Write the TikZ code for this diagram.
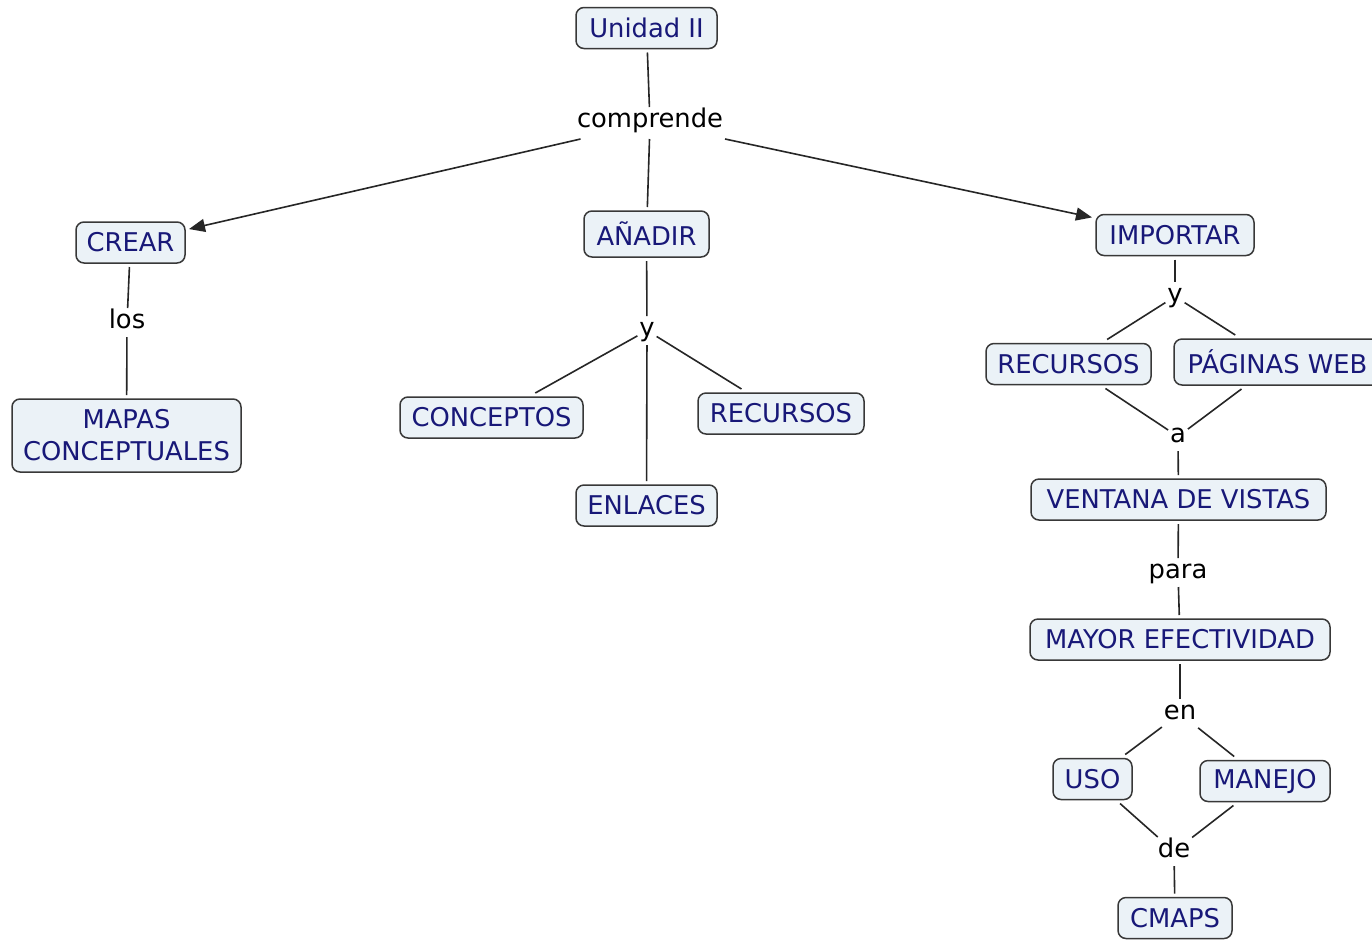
\documentclass[tikz,border=0pt]{standalone}
\usepackage{fontspec}
\setmainfont{DejaVu Sans}
\usetikzlibrary{arrows.meta}
\definecolor{cfill}{HTML}{EBF2F7}
\definecolor{cborder}{HTML}{383838}
\definecolor{cnavy}{HTML}{181878}
\begin{document}
\begin{tikzpicture}[x=1pt,y=-1pt,
  concept/.style={draw=cborder, line width=1.5pt, fill=cfill, text=cnavy,
    rounded corners=8pt, inner xsep=0pt, inner ysep=0pt, minimum height=41pt,
    align=center, outer sep=4pt,
    font=\fontsize{25.8pt}{32pt}\selectfont},
  linklabel/.style={text=black, inner sep=2pt, outer sep=0pt,
    text height=18pt, text depth=7pt,
    font=\fontsize{25.8pt}{30pt}\selectfont},
  conn/.style={draw=black!85, line width=1.6pt},
  arr/.style={conn, -{Triangle[length=16pt,width=13pt]}}]
\useasboundingbox (0,0) rectangle (1372,940);
\clip (0,0) rectangle (1372,940);
\fill[white] (0,0) rectangle (1372,940);

% concepts
\node[concept, minimum width=141pt] (unidad) at (646.5,28) {Unidad II};
\node[concept, minimum width=109pt] (crear) at (130.5,242.5) {CREAR};
\node[concept, minimum width=229pt, minimum height=73pt] (mapas) at (126.5,435.5) {MAPAS\\CONCEPTUALES};
\node[concept, minimum width=125pt, minimum height=46pt] (anadir) at (646.5,234) {AÑADIR};
\node[concept, minimum width=183pt] (conceptos) at (491.5,417.5) {CONCEPTOS};
\node[concept, minimum width=166pt] (recursosA) at (781,413.5) {RECURSOS};
\node[concept, minimum width=141pt] (enlaces) at (646.5,505.5) {ENLACES};
\node[concept, minimum width=158pt] (importar) at (1175,235) {IMPORTAR};
\node[concept, minimum width=165pt] (recursosB) at (1068.5,364) {RECURSOS};
\node[concept, minimum width=207pt, minimum height=46pt] (paginas) at (1277.5,362) {PÁGINAS WEB};
\node[concept, minimum width=295pt] (ventana) at (1178.5,499.5) {VENTANA DE VISTAS};
\node[concept, minimum width=300pt] (mayor) at (1180,639.5) {MAYOR EFECTIVIDAD};
\node[concept, minimum width=79pt] (uso) at (1092.5,779) {USO};
\node[concept, minimum width=130pt] (manejo) at (1265,781) {MANEJO};
\node[concept, minimum width=114pt] (cmaps) at (1175,918) {CMAPS};

% linking phrases
\node[linklabel, text depth=10pt] (comprende) at (650,123) {comprende};
\node[linklabel] (los) at (127,322.5) {los};
\node[linklabel] (yA) at (647,330.5) {y};
\node[linklabel] (yB) at (1175,296.5) {y};
\node[linklabel] (a) at (1178,436.5) {a};
\node[linklabel] (para) at (1178,572.5) {para};
\node[linklabel] (en) at (1180,713.5) {en};
\node[linklabel] (de) at (1174,851.5) {de};

% connectors
\draw[conn] (unidad) -- (comprende);
\draw[arr] (comprende) -- (crear);
\draw[conn] (comprende) -- (anadir);
\draw[arr] (comprende) -- (importar);
\draw[conn] (crear) -- (los);
\draw[conn] (los) -- (mapas);
\draw[conn] (anadir) -- (yA);
\draw[conn] (yA) -- (conceptos);
\draw[conn] (yA) -- (recursosA);
\draw[conn] (yA) -- (enlaces);
\draw[conn] (importar) -- (yB);
\draw[conn] (yB) -- (recursosB);
\draw[conn] (yB) -- (paginas);
\draw[conn] (recursosB) -- (a);
\draw[conn] (paginas) -- (a);
\draw[conn] (a) -- (ventana);
\draw[conn] (ventana) -- (para);
\draw[conn] (para) -- (mayor);
\draw[conn] (mayor) -- (en);
\draw[conn] (en) -- (uso);
\draw[conn] (en) -- (manejo);
\draw[conn] (uso) -- (de);
\draw[conn] (manejo) -- (de);
\draw[conn] (de) -- (cmaps);
\end{tikzpicture}
\end{document}
